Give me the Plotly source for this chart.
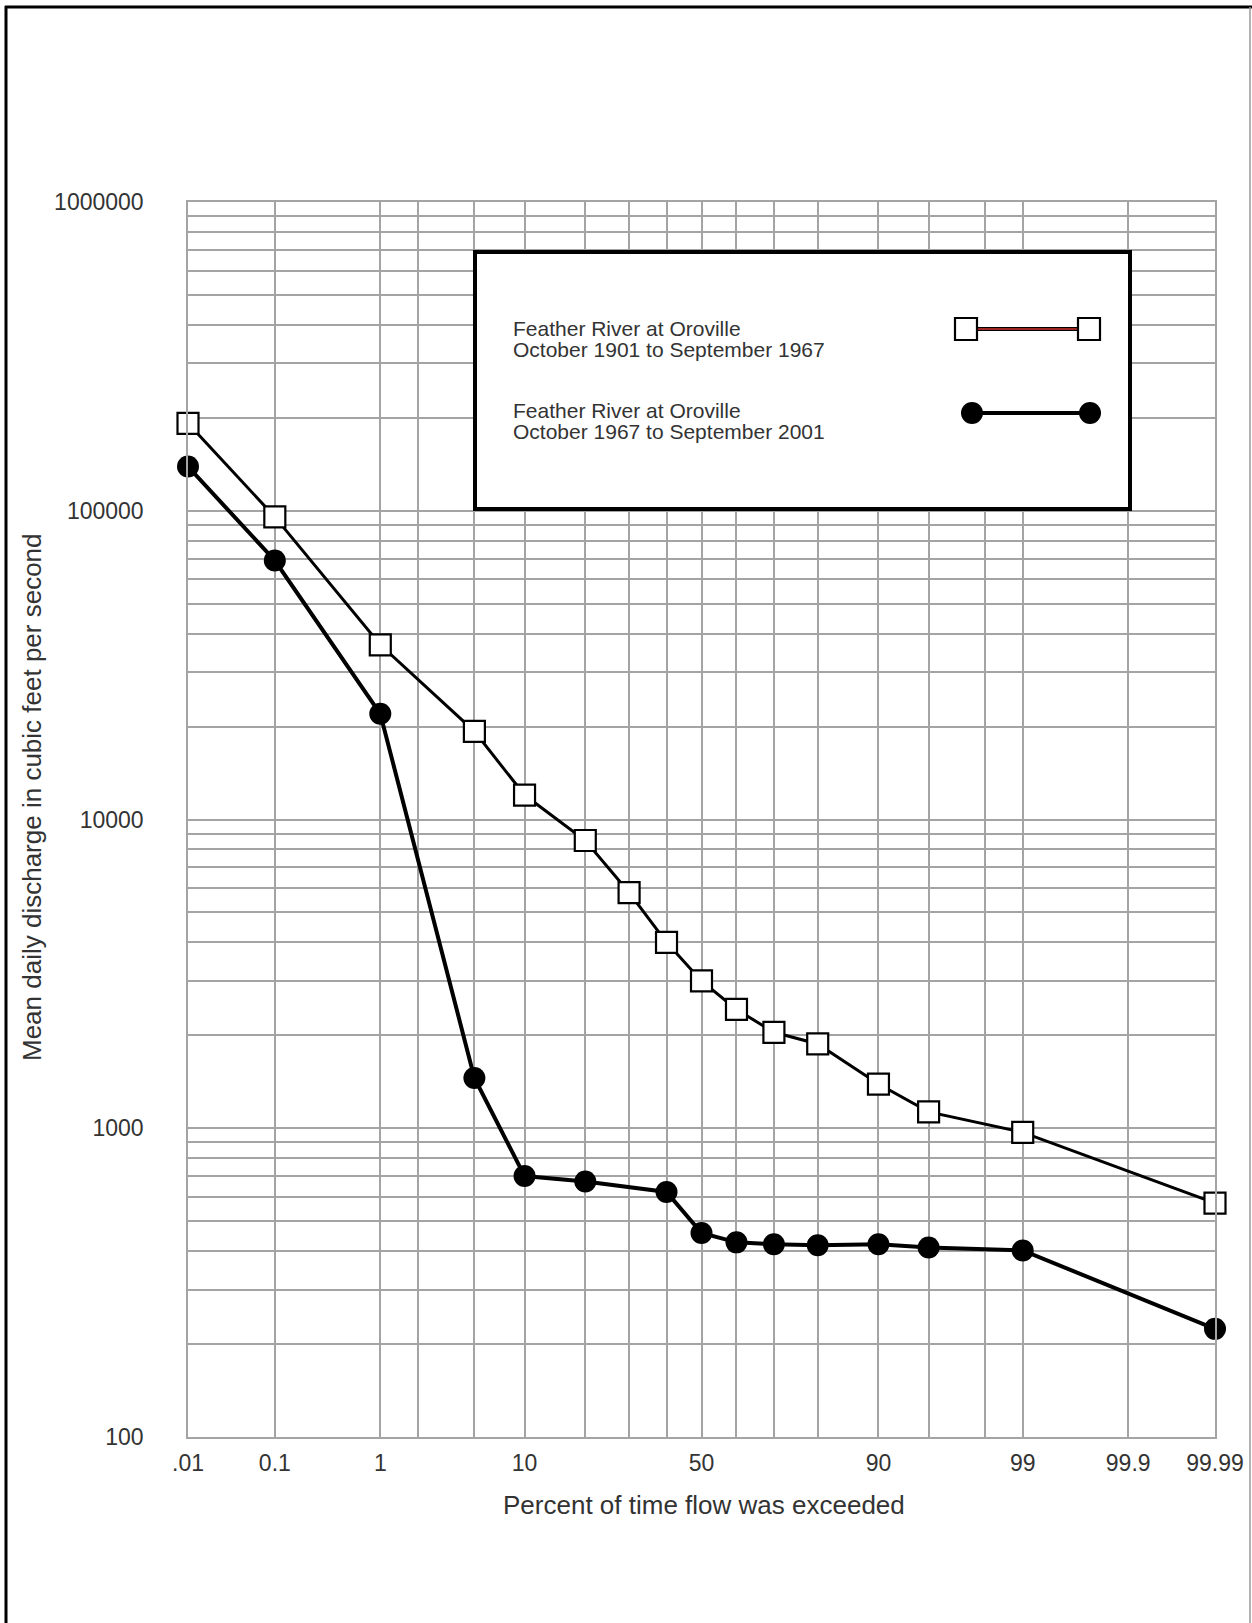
import plotly.graph_objects as go
from statistics import NormalDist

# Exceedance probabilities (percent) and mean daily discharge (cfs)
pct_1901 = [0.01, 0.1, 1, 5, 10, 20, 30, 40, 50, 60, 70, 80, 90, 95, 99, 99.99]
flow_1901 = [192000, 95500, 36800, 19300, 12000, 8550, 5800, 4000, 3000,
             2425, 2045, 1875, 1390, 1130, 970, 572]

pct_1967 = [0.01, 0.1, 1, 5, 10, 20, 40, 50, 60, 70, 80, 90, 95, 99, 99.99]
flow_1967 = [139000, 69000, 22000, 1455, 700, 672, 622, 458, 427, 421, 418,
             421, 411, 402, 224]

# Probability-scale grid and labels
grid_pct = [0.01, 0.1, 1, 2, 5, 10, 20, 30, 40, 50, 60, 70, 80, 90, 95, 98, 99, 99.9, 99.99]
grid_labels = {0.01: ".01", 0.1: "0.1", 1: "1", 10: "10", 50: "50",
               90: "90", 99: "99", 99.9: "99.9", 99.99: "99.99"}

y_decades = [100, 1000, 10000, 100000, 1000000]

name_1901 = ["Feather River at Oroville", "October 1901 to September 1967"]
name_1967 = ["Feather River at Oroville", "October 1967 to September 2001"]

nd = NormalDist()


def z(p):
    return nd.inv_cdf(p / 100.0)


x_ticks = [z(p) for p in grid_pct]
x_text = [grid_labels.get(p, "") for p in grid_pct]

y_ticks = []
y_text = []
for d in y_decades[:-1]:
    for m in range(1, 10):
        y_ticks.append(d * m)
        y_text.append(str(d) if m == 1 else "")
y_ticks.append(y_decades[-1])
y_text.append(str(y_decades[-1]))

W, H = 1252, 1623
L, R, T, B = 188, 1215, 202, 1437


def px(x):
    return (x - L) / (R - L)


def py(y):
    return (B - y) / (B - T)


FONT = "Liberation Sans, Arial, sans-serif"
TXT = "#333333"
GRID = "#a4a4a4"

fig = go.Figure()

fig.add_trace(go.Scatter(
    x=[z(p) for p in pct_1901], y=flow_1901, mode="lines+markers",
    name=" ".join(name_1901),
    line=dict(color="black", width=3),
    marker=dict(symbol="square", size=21, color="white",
                line=dict(color="black", width=2.2)),
    cliponaxis=False,
))
fig.add_trace(go.Scatter(
    x=[z(p) for p in pct_1967], y=flow_1967, mode="lines+markers",
    name=" ".join(name_1967),
    line=dict(color="black", width=4),
    marker=dict(symbol="circle", size=22, color="black",
                line=dict(color="black", width=0)),
    cliponaxis=False,
))

shapes = []
# outer page frame
shapes.append(dict(type="line", xref="paper", yref="paper",
                   x0=px(5), x1=px(W), y0=py(7), y1=py(7),
                   line=dict(color="black", width=3)))
shapes.append(dict(type="line", xref="paper", yref="paper",
                   x0=px(6), x1=px(6), y0=py(6), y1=py(H),
                   line=dict(color="black", width=3)))
shapes.append(dict(type="line", xref="paper", yref="paper",
                   x0=px(1250), x1=px(1250), y0=py(7), y1=py(H),
                   line=dict(color="#9a9a9a", width=1.5)))

# legend box
shapes.append(dict(type="rect", xref="paper", yref="paper",
                   x0=px(475), x1=px(1130), y0=py(252), y1=py(509),
                   fillcolor="white", line=dict(color="black", width=4)))
# legend sample: squares series
ly1 = py(329)
shapes.append(dict(type="line", xref="paper", yref="paper",
                   x0=px(966), x1=px(1089), y0=ly1, y1=ly1,
                   line=dict(color="black", width=4)))
shapes.append(dict(type="line", xref="paper", yref="paper",
                   x0=px(966), x1=px(1089), y0=ly1, y1=ly1,
                   line=dict(color="#d0342c", width=1.3)))
for cx in (966, 1089):
    shapes.append(dict(type="rect", xref="paper", yref="paper",
                       xsizemode="pixel", ysizemode="pixel",
                       xanchor=px(cx), yanchor=ly1,
                       x0=-11, x1=11, y0=-11, y1=11,
                       fillcolor="white", line=dict(color="black", width=2.2)))
# legend sample: circles series
ly2 = py(413)
shapes.append(dict(type="line", xref="paper", yref="paper",
                   x0=px(972), x1=px(1090), y0=ly2, y1=ly2,
                   line=dict(color="black", width=4)))
for cx in (972, 1090):
    shapes.append(dict(type="circle", xref="paper", yref="paper",
                       xsizemode="pixel", ysizemode="pixel",
                       xanchor=px(cx), yanchor=ly2,
                       x0=-11, x1=11, y0=-11, y1=11,
                       fillcolor="black", line=dict(color="black", width=0)))

annotations = []
for lines, ys in ((name_1901, (328, 350)), (name_1967, (411, 431))):
    for t, yy in zip(lines, ys):
        annotations.append(dict(
            text=t, xref="paper", yref="paper", x=px(511), y=py(yy),
            xanchor="left", yanchor="middle", showarrow=False,
            font=dict(family=FONT, size=21, color=TXT)))

# axis titles
annotations.append(dict(
    text="Percent of time flow was exceeded", xref="paper", yref="paper",
    x=px(704), y=py(1505), xanchor="center", yanchor="middle",
    showarrow=False, font=dict(family=FONT, size=26, color=TXT)))
annotations.append(dict(
    text="Mean daily discharge in cubic feet per second", xref="paper",
    yref="paper", x=px(32), y=py(797), xanchor="center", yanchor="middle",
    textangle=-90, showarrow=False, font=dict(family=FONT, size=26, color=TXT)))

fig.update_layout(
    width=W, height=H,
    margin=dict(l=L, r=W - R, t=T, b=H - B, autoexpand=False),
    paper_bgcolor="white", plot_bgcolor="white",
    showlegend=False,
    shapes=shapes, annotations=annotations,
    font=dict(family=FONT, color=TXT),
)
fig.update_xaxes(
    range=[z(0.01), z(99.99)], tickmode="array", tickvals=x_ticks,
    ticktext=x_text, showgrid=True, gridcolor=GRID, gridwidth=1.5,
    zeroline=False, showline=True, linecolor=GRID, linewidth=1.5, mirror=True,
    ticks="", tickfont=dict(family=FONT, size=23, color=TXT),
    ticklabelstandoff=5,
)
fig.update_yaxes(
    type="log", range=[2, 6], tickmode="array", tickvals=y_ticks,
    ticktext=y_text, showgrid=True, gridcolor=GRID, gridwidth=1.5,
    zeroline=False, showline=True, linecolor=GRID, linewidth=1.5, mirror=True,
    ticks="", tickfont=dict(family=FONT, size=23, color=TXT),
    ticklabelstandoff=38,
)

fig.write_html("out.html")
